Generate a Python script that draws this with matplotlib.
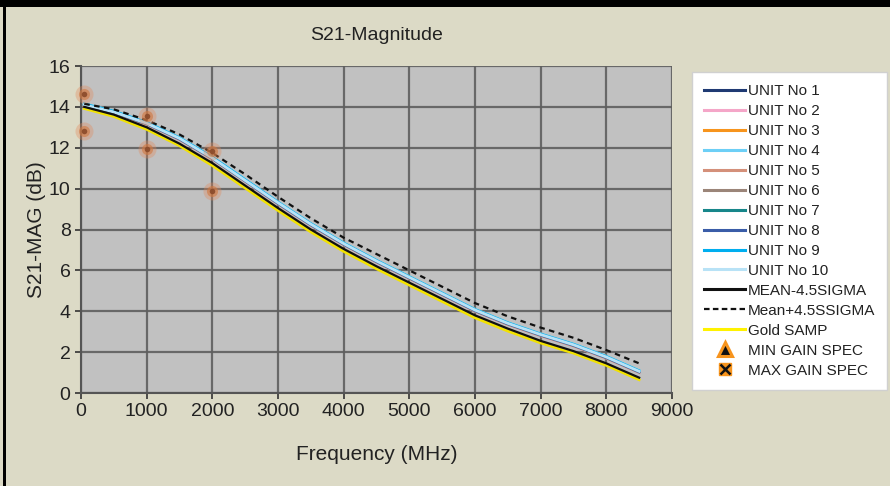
import matplotlib
matplotlib.use("Agg")
import matplotlib.pyplot as plt
from matplotlib.lines import Line2D
from matplotlib.patches import Rectangle
from matplotlib.legend_handler import HandlerTuple

plt.rcParams['font.family'] = ['Liberation Sans', 'DejaVu Sans']

freq = [50, 500, 1000, 1500, 2000, 2500, 3000, 3500, 4000, 4500, 5000, 5500, 6000, 6500, 7000, 7500, 8000, 8500]

unit1 = [14.10, 13.75, 13.20, 12.45, 11.50, 10.40, 9.30, 8.25, 7.30, 6.45, 5.65, 4.85, 4.05, 3.40, 2.85, 2.35, 1.75, 1.05]
unit2 = [14.05, 13.70, 13.15, 12.40, 11.45, 10.35, 9.25, 8.20, 7.25, 6.40, 5.60, 4.80, 4.00, 3.35, 2.80, 2.30, 1.70, 1.00]
unit3 = [14.12, 13.77, 13.22, 12.48, 11.52, 10.42, 9.33, 8.28, 7.33, 6.48, 5.68, 4.88, 4.08, 3.43, 2.88, 2.38, 1.78, 1.08]
unit4 = [14.15, 13.80, 13.25, 12.50, 11.55, 10.45, 9.35, 8.30, 7.35, 6.50, 5.70, 4.90, 4.10, 3.45, 2.90, 2.40, 1.80, 1.10]
unit5 = [14.08, 13.73, 13.18, 12.43, 11.48, 10.38, 9.28, 8.23, 7.28, 6.43, 5.63, 4.83, 4.03, 3.38, 2.83, 2.33, 1.73, 1.03]
unit6 = [14.06, 13.71, 13.16, 12.41, 11.46, 10.36, 9.26, 8.21, 7.26, 6.41, 5.61, 4.81, 4.01, 3.36, 2.81, 2.31, 1.71, 1.01]
unit7 = [14.11, 13.76, 13.21, 12.46, 11.51, 10.41, 9.31, 8.26, 7.31, 6.46, 5.66, 4.86, 4.06, 3.41, 2.86, 2.36, 1.76, 1.06]
unit8 = [14.09, 13.74, 13.19, 12.44, 11.49, 10.39, 9.29, 8.24, 7.29, 6.44, 5.64, 4.84, 4.04, 3.39, 2.84, 2.34, 1.74, 1.04]
unit9 = [14.13, 13.78, 13.23, 12.48, 11.53, 10.43, 9.33, 8.28, 7.33, 6.48, 5.68, 4.88, 4.08, 3.43, 2.88, 2.38, 1.78, 1.08]
unit10 = [14.10, 13.75, 13.20, 12.46, 11.50, 10.40, 9.31, 8.26, 7.31, 6.46, 5.66, 4.86, 4.06, 3.41, 2.86, 2.36, 1.76, 1.06]

mean_minus = [14.00, 13.62, 13.00, 12.20, 11.25, 10.15, 9.05, 8.00, 7.05, 6.20, 5.40, 4.60, 3.80, 3.15, 2.55, 2.05, 1.45, 0.75]
mean_plus = [14.15, 13.88, 13.35, 12.65, 11.75, 10.70, 9.60, 8.55, 7.60, 6.80, 6.00, 5.20, 4.40, 3.75, 3.20, 2.70, 2.10, 1.45]
gold = [13.92, 13.53, 12.90, 12.10, 11.13, 10.03, 8.93, 7.88, 6.93, 6.08, 5.28, 4.48, 3.68, 3.03, 2.45, 1.95, 1.35, 0.65]

spec_freq = [50, 1000, 2000]
min_gain = [12.8, 11.95, 9.9]
max_gain = [14.65, 13.55, 11.85]

unit_names = ['UNIT No 1', 'UNIT No 2', 'UNIT No 3', 'UNIT No 4', 'UNIT No 5',
              'UNIT No 6', 'UNIT No 7', 'UNIT No 8', 'UNIT No 9', 'UNIT No 10']
unit_colors = ['#1f3a73', '#f4a6c8', '#f7941d', '#6dcff6', '#d4907a',
               '#9b8579', '#17868a', '#3a5da8', '#00aeef', '#b8e2f6']
units = [unit1, unit2, unit3, unit4, unit5, unit6, unit7, unit8, unit9, unit10]

W, H = 890, 486
fig = plt.figure(figsize=(W / 100, H / 100), dpi=100)
fig.patch.set_facecolor('#dcdac6')

# black frame pieces
fig.patches.append(Rectangle((0, 1 - 7 / H), 1, 7 / H, transform=fig.transFigure,
                             facecolor='black', edgecolor='none', zorder=0))
fig.patches.append(Rectangle((3 / W, 0), 3 / W, 1, transform=fig.transFigure,
                             facecolor='black', edgecolor='none', zorder=0))

x0, x1 = 81, 672
y0, y1 = 393, 66
ax = fig.add_axes([x0 / W, 1 - y0 / H, (x1 - x0) / W, (y0 - y1) / H])
ax.set_facecolor('#c1c1c1')
ax.set_xlim(0, 9000)
ax.set_ylim(0, 16)
ax.set_xticks(range(0, 9001, 1000))
ax.set_yticks(range(0, 17, 2))
ax.grid(True, color='#5e5e5e', linewidth=1.6, alpha=0.9)
ax.set_axisbelow(True)
for s in ['top', 'right']:
    ax.spines[s].set_visible(False)
for s in ['left', 'bottom']:
    ax.spines[s].set_color('#555555')
    ax.spines[s].set_linewidth(1.5)
ax.tick_params(axis='both', colors='#333333', labelcolor='#222222', labelsize=14,
               length=4, width=1.2, direction='out')

handles = []
ax.plot(freq, gold, color='#f2e200', linewidth=2.0, zorder=3)
for u, c, n in zip(units, unit_colors, unit_names):
    ax.plot(freq, u, color=c, linewidth=2.0, zorder=4)
    handles.append(Line2D([], [], color=c, linewidth=2.2, label=n))
ax.plot(freq, mean_minus, color='#111111', linewidth=1.6, zorder=5)
ax.plot(freq, mean_plus, color='#111111', linewidth=1.6, linestyle=(0, (2.5, 2)), zorder=5)

handles.append(Line2D([], [], color='#111111', linewidth=2.2, label='MEAN-4.5SIGMA'))
handles.append(Line2D([], [], color='#111111', linewidth=1.6, linestyle=(0, (2.5, 1.5)),
                      label='Mean+4.5SSIGMA'))
handles.append(Line2D([], [], color='#fff200', linewidth=2.2, label='Gold SAMP'))

# spec points (rendered as soft dots)
for ys in (min_gain, max_gain):
    ax.plot(spec_freq, ys, linestyle='none', marker='o', markersize=13,
            color='#e3895a', alpha=0.35, markeredgewidth=0, zorder=6, clip_on=False)
    ax.plot(spec_freq, ys, linestyle='none', marker='o', markersize=8,
            color='#d0773f', alpha=0.6, markeredgewidth=0, zorder=6, clip_on=False)
    ax.plot(spec_freq, ys, linestyle='none', marker='o', markersize=4,
            color='#8a4a2a', alpha=0.9, markeredgewidth=0, zorder=7, clip_on=False)

tri = Line2D([], [], linestyle='none', marker='^', markersize=10, markerfacecolor='#111111',
             markeredgecolor='#f7941d', markeredgewidth=2.2)
sq = Line2D([], [], linestyle='none', marker='s', markersize=9, markerfacecolor='#f7941d',
            markeredgecolor='#f7941d')
xx = Line2D([], [], linestyle='none', marker='x', markersize=7, markeredgecolor='#111111',
            markeredgewidth=1.8)

all_handles = handles + [tri, (sq, xx)]
all_labels = [h.get_label() for h in handles] + ['MIN GAIN SPEC', 'MAX GAIN SPEC']

ax.set_title('S21-Magnitude', fontsize=14, color='#222222', pad=19)
ax.set_xlabel('Frequency (MHz)', fontsize=15, color='#222222', labelpad=18)
ax.set_ylabel('S21-MAG (dB)', fontsize=15, color='#222222', labelpad=2)

leg = fig.legend(all_handles, all_labels, loc='upper left',
                 bbox_to_anchor=(692 / W, 1 - 72 / H), bbox_transform=fig.transFigure,
                 handler_map={tuple: HandlerTuple(ndivide=1)},
                 fontsize=11, frameon=True, fancybox=False, handlelength=2.7,
                 handletextpad=0.15, labelspacing=0.39, borderpad=0.8,
                 borderaxespad=0, edgecolor='#d0d0d0', facecolor='white', framealpha=1)
leg.get_frame().set_linewidth(1.0)
for t in leg.get_texts():
    t.set_color('#222222')

fig.savefig('out.png', dpi=100, facecolor=fig.get_facecolor())
